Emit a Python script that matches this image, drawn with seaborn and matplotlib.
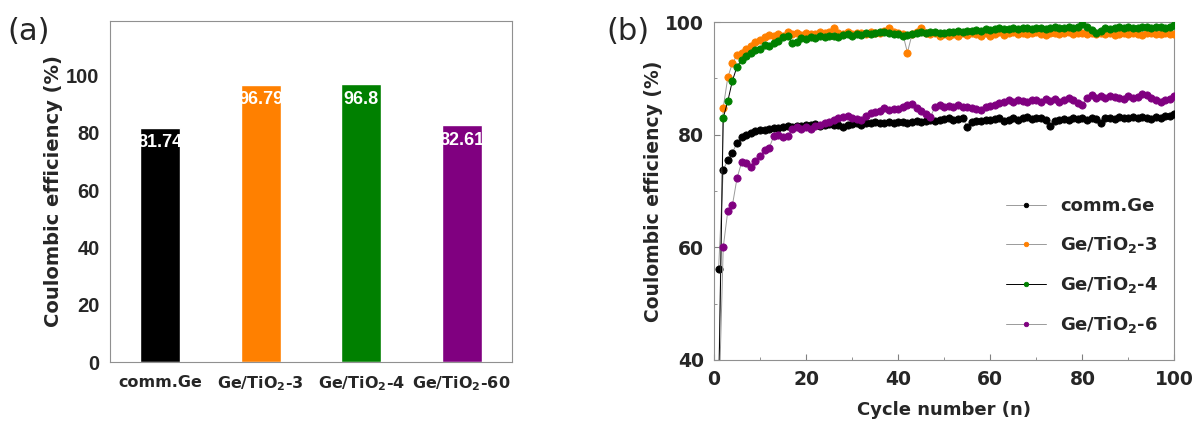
import numpy as np
import pandas as pd
import seaborn as sns
import matplotlib.pyplot as plt

# panel (a): average coulombic efficiency
samples = ['comm.Ge', 'Ge/TiO$_2$-3', 'Ge/TiO$_2$-4', 'Ge/TiO$_2$-60']
avg_ce = [81.74, 96.79, 96.8, 82.61]
bar_labels = ['81.74', '96.79', '96.8', '82.61']

# panel (b): coulombic efficiency per cycle
cycles = list(range(1, 101))
ce_comm = [56.2, 73.7, 75.5, 76.8, 78.6, 79.6, 80.0, 80.3, 80.6, 80.8,
           80.9, 81.0, 81.2, 81.2, 81.3, 81.5, 81.4, 81.6, 81.5, 81.7,
           81.7, 81.9, 81.6, 81.8, 81.9, 81.7, 81.8, 81.3, 81.8, 81.9,
           82.0, 81.8, 82.1, 82.0, 82.2, 82.0, 82.1, 82.3, 82.0, 82.2,
           82.3, 82.1, 82.2, 82.4, 82.3, 82.4, 82.6, 82.5, 82.7, 82.8,
           82.9, 82.7, 82.8, 83.0, 81.4, 82.3, 82.5, 82.4, 82.7, 82.6,
           82.8, 82.9, 82.5, 82.7, 83.0, 82.6, 82.9, 83.1, 82.8, 82.9,
           83.0, 82.7, 81.6, 82.5, 82.7, 82.8, 82.6, 82.9, 82.8, 83.0,
           82.7, 82.9, 82.8, 82.0, 82.9, 83.0, 82.8, 83.1, 82.9, 83.0,
           83.2, 82.9, 83.1, 83.0, 82.8, 83.2, 83.0, 83.3, 83.4, 83.6]
ce_tio2_3 = [35.0, 84.8, 90.2, 92.7, 94.1, 94.6, 95.3, 95.8, 96.5, 96.8,
             97.3, 97.7, 97.5, 97.8, 97.6, 98.3, 97.8, 98.0, 97.7, 98.1,
             97.9, 97.8, 98.2, 98.0, 98.3, 98.9, 98.0, 97.9, 98.2, 97.8,
             98.1, 98.0, 97.9, 98.2, 98.0, 98.1, 98.4, 98.9, 98.3, 98.0,
             97.9, 94.6, 97.8, 98.2, 98.9, 98.1, 97.9, 98.0, 97.6, 97.8,
             97.5, 97.9, 97.6, 98.0, 97.7, 98.1, 97.8, 97.5, 98.0, 97.6,
             97.9, 98.2, 97.7, 98.0, 98.3, 97.9, 98.1, 97.8, 98.0, 98.2,
             97.9, 97.7, 98.0, 98.1, 97.8, 98.0, 98.2, 97.9, 98.1, 98.0,
             97.8, 98.1, 97.9, 98.0, 97.8, 98.0, 97.7, 97.9, 98.0, 97.8,
             98.0, 97.9, 97.7, 98.0, 98.1, 97.8, 97.9, 98.0, 97.8, 97.9]
ce_tio2_4 = [33.0, 83.0, 86.0, 89.6, 92.1, 93.3, 94.0, 94.6, 95.0, 95.3,
             95.9, 95.8, 96.2, 96.6, 97.4, 97.6, 96.2, 96.5, 97.1, 97.0,
             97.3, 97.2, 97.5, 97.3, 97.6, 97.5, 97.4, 97.7, 97.8, 97.6,
             97.9, 97.7, 98.0, 97.8, 98.0, 98.2, 98.3, 98.0, 97.9, 97.8,
             97.6, 97.7, 97.9, 98.1, 98.2, 98.0, 98.3, 98.2, 98.0, 98.1,
             98.3, 98.2, 98.4, 98.3, 98.5, 98.4, 98.6, 98.5, 98.7, 98.6,
             98.8, 98.9, 98.7, 98.8, 98.9, 98.7, 98.9, 99.0, 98.8, 98.9,
             99.0, 98.8, 99.0, 99.1, 98.9, 99.0, 99.1, 99.0, 99.2, 99.6,
             99.1, 98.6, 98.1, 98.5, 98.9, 98.7, 99.0, 99.2, 99.0, 99.1,
             98.9, 99.0, 99.2, 99.1, 99.0, 99.2, 99.1, 99.0, 99.2, 99.4]
ce_tio2_6 = [30.0, 60.0, 66.5, 67.5, 72.3, 75.1, 74.9, 74.3, 75.3, 76.2,
             77.3, 77.7, 79.8, 80.0, 79.6, 79.7, 81.1, 81.3, 81.0, 81.4,
             81.1, 81.6, 81.8, 82.0, 82.3, 82.6, 82.9, 83.1, 83.3, 83.0,
             82.8, 82.6, 83.3, 83.8, 84.0, 84.3, 84.7, 84.4, 84.6, 84.5,
             84.9, 85.3, 85.4, 84.8, 84.2, 83.6, 83.1, 85.0, 85.2, 85.0,
             85.1, 85.0, 85.2, 85.0, 84.9, 84.7, 84.6, 84.4, 84.9, 85.1,
             85.3, 85.6, 85.8, 86.1, 85.9, 86.2, 86.0, 85.8, 86.1, 86.2,
             85.8, 86.3, 86.0, 86.4, 85.9, 86.2, 86.5, 86.1, 85.7, 85.3,
             86.5, 87.0, 86.6, 86.8, 86.5, 86.9, 86.7, 86.6, 86.4, 86.8,
             86.5, 86.7, 87.3, 87.0, 86.6, 86.2, 85.8, 86.2, 86.4, 86.8]

series_names = ['comm.Ge', 'Ge/TiO$_2$-3', 'Ge/TiO$_2$-4', 'Ge/TiO$_2$-6']
colors = ['#000000', '#ff8000', '#008000', '#800080']
line_colors = ['#9a9a9a', '#9a9a9a', '#000000', '#9a9a9a']

sns.set_style('white')
plt.rcParams['font.family'] = ['DejaVu Sans']
plt.rcParams['mathtext.default'] = 'bf'

fig = plt.figure(figsize=(11.96, 4.25), dpi=100)
ax1 = fig.add_axes([0.092, 0.148, 0.336, 0.803])
ax2 = fig.add_axes([0.597, 0.153, 0.385, 0.795])

# ---- (a) bar chart
df_a = pd.DataFrame({'sample': samples, 'ce': avg_ce})
sns.barplot(data=df_a, x='sample', y='ce', hue='sample', palette=colors,
            width=0.4, legend=False, saturation=1, ax=ax1)
for i, (v, lab) in enumerate(zip(avg_ce, bar_labels)):
    ax1.text(i, v - 5.2, lab, ha='center', va='center', color='white',
             fontsize=13, fontweight='bold', family='Liberation Sans')
ax1.set_xlim(-0.5, 3.5)
ax1.set_ylim(0, 119)
ax1.set_yticks([0, 20, 40, 60, 80, 100])
ax1.set_xlabel('')
ax1.set_ylabel('Coulombic efficiency (%)', fontsize=14, fontweight='bold',
               labelpad=2)
ax1.tick_params(axis='x', length=0, labelsize=11.5, pad=9)
ax1.tick_params(axis='y', direction='out', length=4, labelsize=14.5, color='#808080')
for t in ax1.get_xticklabels():
    t.set_fontweight('bold')
for t in ax1.get_yticklabels():
    t.set_fontweight('bold')
    t.set_family('Liberation Sans')
for s in ax1.spines.values():
    s.set_color('#909090')

# ---- (b) cycling
for name, vals, c, lc in zip(series_names, [ce_comm, ce_tio2_3, ce_tio2_4, ce_tio2_6],
                             colors, line_colors):
    sns.lineplot(x=cycles, y=vals, ax=ax2, color=lc, lw=0.7, marker='o',
                 markersize=5.2, markerfacecolor=c, markeredgecolor=c,
                 markeredgewidth=0.6, label=name, zorder=3)
ax2.set_xlim(0, 100)
ax2.set_ylim(40, 100)
ax2.set_xticks([0, 20, 40, 60, 80, 100])
ax2.set_xticks([10, 30, 50, 70, 90], minor=True)
ax2.set_yticks([40, 60, 80, 100])
ax2.set_yticks([50, 70, 90], minor=True)
ax2.tick_params(which='major', direction='in', length=4, labelsize=13.5,
                color='#808080', pad=7)
ax2.tick_params(which='minor', direction='in', length=2.5, color='#808080')
ax2.tick_params(axis='both', which='both', bottom=True, left=True)
for t in ax2.get_xticklabels() + ax2.get_yticklabels():
    t.set_fontweight('bold')
ax2.set_xlabel('Cycle number (n)', fontsize=13, fontweight='bold', labelpad=9)
ax2.set_ylabel('Coulombic efficiency (%)', fontsize=13.5, fontweight='bold',
               labelpad=2)
for s in ax2.spines.values():
    s.set_color('#909090')

leg = ax2.legend(loc='lower right', bbox_to_anchor=(1.0, 0.025), frameon=False,
                 markerscale=0.62, handlelength=2.2,
                 labelspacing=1.05, prop={'weight': 'bold', 'size': 13})

fig.text(0.006, 0.905, '(a)', fontsize=22)
fig.text(0.507, 0.905, '(b)', fontsize=22)

fig.savefig('out.png', dpi=100)
